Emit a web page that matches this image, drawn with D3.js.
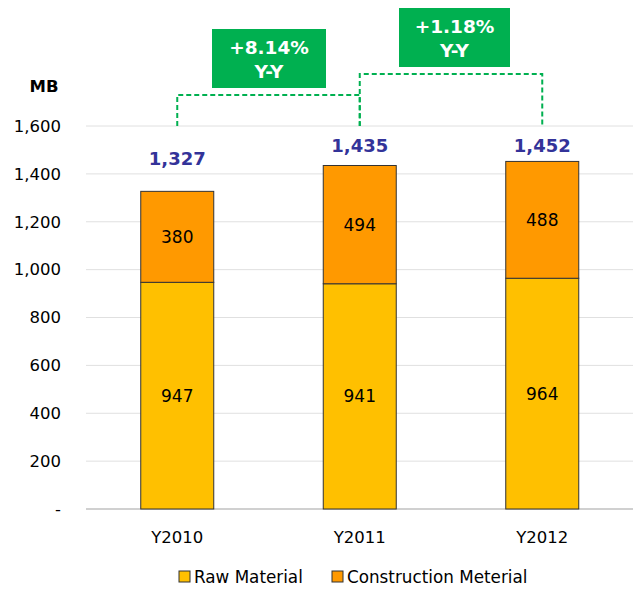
<!DOCTYPE html>
<html><head><meta charset="utf-8">
<script src="https://cdn.jsdelivr.net/npm/d3@7"></script>
<style>body{margin:0;background:#fff}svg{display:block}text{font-family:"DejaVu Sans",Verdana,sans-serif}</style>
</head><body>
<svg id="c" width="643" height="590"></svg>
<script>
const categories = ["Y2010","Y2011","Y2012"];
const rawMaterial = [947, 941, 964];
const constructionMaterial = [380, 494, 488];
const totals = [1327, 1435, 1452];
const yTicks = [0,200,400,600,800,1000,1200,1400,1600];
const growthLabels = ["+8.14%", "+1.18%"];
const seriesNames = ["Raw Material","Construction Meterial"];
const colors = ["#FFC000","#FF9900"];

const svg = d3.select("#c");
const x = d3.scaleBand().domain(categories).range([86,633.5]).paddingInner(0.6).paddingOuter(0.3);
const y = d3.scaleLinear().domain([0,1600]).range([509,126]);
const fmt = d3.format(",");

// gridlines
svg.append("g").selectAll("line").data(yTicks).join("line")
  .attr("x1",86).attr("x2",633).attr("y1",d=>y(d)).attr("y2",d=>y(d))
  .attr("stroke",d=>d===0?"#d0d0d0":"#e0e0e0").attr("stroke-width",d=>d===0?2:1);

// y axis
const yAxis = d3.axisLeft(y).tickValues(yTicks).tickSize(0).tickPadding(0)
  .tickFormat(d=>d===0?"-":fmt(d));
const yg = svg.append("g").attr("transform","translate(61,0)").call(yAxis);
yg.select(".domain").remove();
yg.selectAll("text").attr("font-size",16.5).attr("fill","#000").attr("font-family","DejaVu Sans");

svg.append("text").attr("x",44).attr("y",92).attr("text-anchor","middle")
  .attr("font-size",16.5).attr("font-weight","bold").text("MB");

// x axis
const xAxis = d3.axisBottom(x).tickSize(0).tickPadding(0);
const xg = svg.append("g").attr("transform","translate(0,531)").call(xAxis);
xg.select(".domain").remove();
xg.selectAll("text").attr("font-size",16.5).attr("fill","#000").attr("font-family","DejaVu Sans");

// stacked bars
const data = categories.map((c,i)=>({cat:c, raw:rawMaterial[i], con:constructionMaterial[i]}));
const stack = d3.stack().keys(["raw","con"])(data);
stack.forEach((s,si)=>{
  const g = svg.append("g");
  g.selectAll("rect").data(s).join("rect")
    .attr("x",d=>x(d.data.cat)).attr("width",x.bandwidth())
    .attr("y",d=>y(d[1])).attr("height",d=>y(d[0])-y(d[1]))
    .attr("fill",colors[si]).attr("stroke","#333").attr("stroke-width",1);
  g.selectAll("text").data(s).join("text")
    .attr("x",d=>x(d.data.cat)+x.bandwidth()/2)
    .attr("y",d=>(y(d[0])+y(d[1]))/2+6)
    .attr("text-anchor","middle").attr("font-size",17).attr("fill","#000")
    .text(d=>d[1]-d[0]);
});

// totals
svg.append("g").selectAll("text").data(categories).join("text")
  .attr("x",(d)=>x(d)+x.bandwidth()/2).attr("y",(d,i)=>Math.max(y(totals[i])-26, 152))
  .attr("text-anchor","middle").attr("font-size",18).attr("font-weight","bold")
  .attr("fill","#333399").text((d,i)=>fmt(totals[i]));

// dashed connectors
const cx = categories.map(c=>x(c)+x.bandwidth()/2);
const levels = [95, 74];
const dash = svg.append("g").attr("fill","none").attr("stroke","#00B050")
  .attr("stroke-width",2).attr("stroke-dasharray","5,3");
for (let i=0;i<2;i++){
  dash.append("path").attr("d",`M${cx[i]},${y(1600)}V${levels[i]}H${cx[i+1]}V${y(1600)}`);
}
// green boxes
const boxes = [{x:212,y:29,w:114,h:59},{x:399,y:8,w:111,h:59}];
boxes.forEach((b,i)=>{
  svg.append("rect").attr("x",b.x).attr("y",b.y).attr("width",b.w).attr("height",b.h).attr("fill","#00B050");
  svg.append("text").attr("x",b.x+b.w/2).attr("y",b.y+25).attr("text-anchor","middle")
    .attr("font-size",18.5).attr("font-weight","bold").attr("fill","#fff").text(growthLabels[i]);
  svg.append("text").attr("x",b.x+b.w/2).attr("y",b.y+49).attr("text-anchor","middle")
    .attr("font-size",18.5).attr("font-weight","bold").attr("fill","#fff").text("Y-Y");
});

// legend
const legX = [179, 332];
seriesNames.forEach((n,i)=>{
  svg.append("rect").attr("x",legX[i]).attr("y",571).attr("width",11).attr("height",11)
    .attr("fill",colors[i]).attr("stroke","#333").attr("stroke-width",1);
  svg.append("text").attr("x",legX[i]+15).attr("y",583).attr("font-size",16.8).attr("fill","#000").text(n);
});
</script>
</body></html>
